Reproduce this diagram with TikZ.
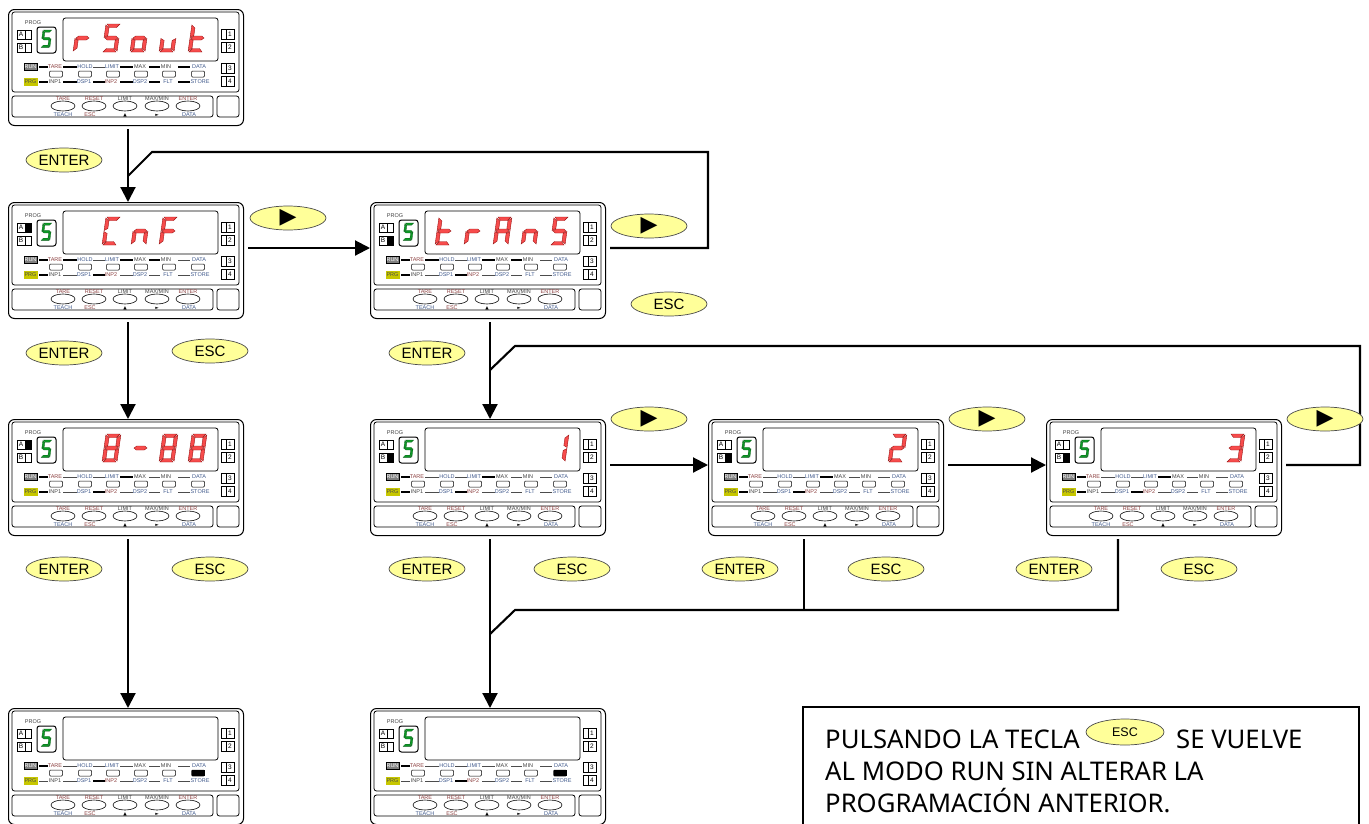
\documentclass[tikz,border=0pt]{standalone}
\usepackage{fontspec}
\setmainfont{Liberation Sans}
\newfontfamily\symfont{DejaVu Sans}
\newfontfamily\notefont{Noto Sans}
\usetikzlibrary{arrows.meta,shapes.geometric}
\definecolor{segredc}{rgb}{0.97,0.3,0.3}
\definecolor{segredd}{rgb}{0.6,0.08,0.08}
\definecolor{seggreenc}{rgb}{0.05,0.6,0.15}
\definecolor{keyyellow}{rgb}{1,1,0.6}
\definecolor{progyellow}{rgb}{0.78,0.78,0}
\definecolor{lblblue}{rgb}{0.25,0.35,0.55}
\definecolor{lblred}{rgb}{0.55,0.25,0.25}
\definecolor{lbldark}{rgb}{0.25,0.25,0.25}
\tikzset{
  panelbox/.style={draw,line width=1pt,rounded corners=6pt,minimum width=235pt,minimum height=116pt,inner sep=0pt,anchor=north west},
  inbox/.style={draw,line width=0.8pt,rounded corners=2.5pt},
  smallbox/.style={draw,line width=0.8pt,fill=white},
  lbl/.style={font=\fontsize{5.5}{6}\selectfont,inner sep=0pt},
  keybtn/.style={ellipse,draw=black!70,line width=0.7pt,fill=keyyellow,minimum width=76pt,minimum height=24pt,inner sep=0pt,font=\fontsize{15}{16}\selectfont},
  segred/.style={fill=segredc,draw=segredd,line width=0.4pt},
  seggreen/.style={fill=seggreenc,draw=seggreenc!60!black,line width=0.3pt},
  ledthin/.style={line width=0.5pt,draw=black!70},
  ledthick/.style={line width=1.4pt},
  flow/.style={line width=2.1pt,line join=miter},
  flowend/.style={flow,-{Triangle[width=15pt,length=15pt]}},
  notetext/.style={font=\notefont\fontsize{25.7}{30}\selectfont,inner sep=0pt,anchor=base west}
}
\newcommand{\mysega}{\path[segm] (1,0) -- (14,0) -- (11,3.5) -- (4,3.5) -- cycle;}
\newcommand{\mysegb}{\path[segm] (15,1) -- (11.5,4) -- (11.5,11.5) -- (15,13.5) -- cycle;}
\newcommand{\mysegc}{\path[segm] (15,27) -- (11.5,24) -- (11.5,16.5) -- (15,14.5) -- cycle;}
\newcommand{\mysegd}{\path[segm] (1,28) -- (14,28) -- (11,24.5) -- (4,24.5) -- cycle;}
\newcommand{\mysege}{\path[segm] (0,27) -- (3.5,24) -- (3.5,16.5) -- (0,14.5) -- cycle;}
\newcommand{\mysegf}{\path[segm] (0,1) -- (3.5,4) -- (3.5,11.5) -- (0,13.5) -- cycle;}
\newcommand{\mysegg}{\path[segm] (1,14) -- (3.5,12) -- (11.5,12) -- (14,14) -- (11.5,16) -- (3.5,16) -- cycle;}
\newcommand{\segdigit}[5]{
  \begin{scope}[shift={(#1,#2)},scale=#3,xslant=0.143,segm/.style={#4}]
    \foreach \s in {#5} {\csname myseg\s\endcsname}
  \end{scope}
}
\newcommand{\dig}[2]{\segdigit{#1+4}{15}{1}{segred}{#2}}
\newcommand{\markA}{\fill (17,21) rectangle (23,30);}
\newcommand{\markB}{\fill (17,34) rectangle (23,43);}
\newcommand{\markD}{\fill (183.5,62) rectangle (196.5,68);}
\newcommand{\meter}[7]{
  \node[panelbox] (#1) at (#2,#3) {};
  \begin{scope}[shift={(#2,#3)}]
    \coordinate (#1in) at (120,0);
    \coordinate (#1out) at (120,120);
    \coordinate (#1left) at (0,46);
    \coordinate (#1right) at (240,46);
    \draw[inbox] (4,3) rectangle (231,83);
    \draw[inbox] (4,87) rectangle (205,108);
    \draw[inbox] (209,87) rectangle (231,108);
    \draw[inbox] (55,9) rectangle (210,52);
    \draw[inbox,line width=1pt] (29,18) rectangle (48,44);
    \node[lbl,text=lbldark] (#1prog) at (25,14) {PROG};
    \foreach \t/\ya/\yb in {A/21/30,B/34/43} {
      \draw[smallbox] (9,\ya) rectangle (23,\yb);
      \draw[line width=0.5pt] (17,\ya) -- (17,\yb);
      \node[lbl,font=\fontsize{6.5}{7}\selectfont] (#1key\t) at (13,{(\ya+\yb)/2}) {\t};
    }
    \foreach \t/\ya/\yb in {1/20/30,2/33/43,3/54/64,4/67/77} {
      \draw[smallbox] (213,\ya) rectangle (226,\yb);
      \draw[line width=0.8pt] (218,\ya) -- (218,\yb);
      \node[lbl,font=\fontsize{6.5}{7}\selectfont] (#1rel\t) at (222,{(\ya+\yb)/2}) {\t};
    }
    \node[smallbox,fill=black!50,lbl,minimum width=13pt,minimum height=7pt,text=white] (#1run) at (22.5,58) {RUN};
    \node[smallbox,fill=progyellow,lbl,minimum width=13pt,minimum height=7pt,draw=progyellow,text=black!70] (#1prg) at (22.5,73) {PRG};
    \foreach \xa/\xb [count=\i] in {31/40,55/69,85/97,112/125,141/152,170/182} {
      \coordinate (ta\i) at (\xa,58);
      \coordinate (tb\i) at (\xb,58);
      \coordinate (ba\i) at (\xa,73);
      \coordinate (bb\i) at (\xb,73);
      \draw[ledthin] (ta\i) -- (tb\i);
      \draw[ledthin] (ba\i) -- (bb\i);
    }
    \foreach \i in {#6} {\draw[ledthick] (ta\i) -- (tb\i);}
    \foreach \i in {#7} {\draw[ledthick] (ba\i) -- (bb\i);}
    \foreach \t/\x/\c in {TARE/47/lblred,HOLD/77/lblblue,LIMIT/104/lblblue,MAX/132/lbldark,MIN/158/lbldark,DATA/191/lblblue} {
      \node[lbl,text=\c] (#1up\x) at (\x,58) {\t};
    }
    \foreach \t/\x/\c in {INP1/47/lbldark,DSP1/76/lblblue,INP2/103/lblred,DSP2/132/lblblue,FLT/160/lblblue,STORE/192/lblblue} {
      \node[lbl,text=\c] (#1dn\x) at (\x,73) {\t};
    }
    \foreach \x in {48,77,105,133,161,190} {
      \draw[smallbox,line width=0.5pt,rounded corners=1pt] (\x-6.5,62) rectangle (\x+6.5,68);
    }
    \foreach \t/\x/\c in {TARE/55/lblred,RESET/86/lblred,LIMIT/117/lbldark,{MAX/MIN}/149/lbldark,ENTER/180/lblred} {
      \node[lbl,text=\c] (#1top\x) at (\x,90) {\t};
    }
    \foreach \t/\x/\c in {TEACH/55/lblblue,ESC/82/lblred,DATA/181/lblblue} {
      \node[lbl,text=\c] (#1bot\x) at (\x,106) {\t};
    }
    \node[lbl,font=\symfont\fontsize{4.5}{5}\selectfont] (#1up) at (117,106) {▲};
    \node[lbl,font=\symfont\fontsize{4.5}{5}\selectfont] (#1rt) at (149,106) {►};
    \foreach \x in {55,86,117,149,180} {
      \draw[line width=0.6pt,fill=white] (\x,97) ellipse (12 and 5);
    }
    #4
    #5
    \segdigit{35}{21}{0.62}{seggreen}{a,f,g,c,d}
  \end{scope}
}
\begin{document}
\begin{tikzpicture}[x=1pt,y=-1pt,line cap=butt]
  \useasboundingbox (0,0) rectangle (1369,823);
  \clip (0,0) rectangle (1369,823);
  \meter{rsout}{8}{9}{}{\dig{65}{e,g}\dig{94}{a,f,g,c,d}\dig{122}{g,c,d,e}\dig{151}{c,d,e}\dig{180}{f,g,e,d}}{1,2,4,5,6}{1,2,3,4,5,6}
  \meter{cnf}{8}{202}{\markA}{\dig{94}{a,f,e,d}\dig{123}{e,g,c}\dig{151}{a,f,g,e}}{1,2,4,5}{1,3}
  \meter{trans}{370}{202}{\markB}{\dig{65}{f,g,e,d}\dig{94}{e,g}\dig{123}{a,b,c,e,f,g}\dig{151}{e,g,c}\dig{180}{a,f,g,c,d}}{1,2,4,5}{1,3}
  \meter{date}{8}{419}{\markA}{\dig{94}{a,b,c,d,e,f,g}\dig{123}{g}\dig{151}{a,b,c,d,e,f,g}\dig{180}{a,b,c,d,e,f,g}}{1,4}{1,3}
  \meter{one}{370}{419}{\markB}{\dig{180}{b,c}}{1,4}{1,3}
  \meter{two}{708}{419}{\markB}{\dig{180}{a,b,g,e,d}}{1,4}{1,3}
  \meter{three}{1046}{419}{\markB}{\dig{180}{a,b,g,c,d}}{1,4}{1,3}
  \meter{storea}{8}{708}{\markD}{}{1}{3}
  \meter{storeb}{370}{708}{\markD}{}{1}{3}
  \coordinate (loopa) at (708,152);
  \coordinate (loopb) at (152,152);
  \coordinate (loopc) at (128,176);
  \coordinate (loopd) at (1360,346);
  \coordinate (loope) at (515,346);
  \coordinate (loopf) at (490,370);
  \coordinate (backa) at (515,610);
  \coordinate (backb) at (490,634);
  \coordinate (backc) at (804,610);
  \coordinate (backd) at (1118,610);
  \draw[flowend] (rsoutout) -- (cnfin);
  \draw[flowend] (cnfout) -- (datein);
  \draw[flowend] (dateout) -- (storeain);
  \draw[flowend] (transout) -- (onein);
  \draw[flowend] (oneout) -- (storebin);
  \draw[flowend] (cnfright) -- (transleft);
  \draw[flowend] (oneright) -- (twoleft);
  \draw[flowend] (tworight) -- (threeleft);
  \draw[flow] (transright) -| (loopa) -- (loopb) -- (loopc);
  \draw[flow] (threeright) -| (loopd) -- (loope) -- (loopf);
  \draw[flow] (threeout -| backd) -- (backd) -- (backa) -- (backb);
  \draw[flow] (twoout -| backc) -- (backc);
  \node[keybtn] (enter1) at (64,160) {ENTER};
  \node[keybtn] (enter2) at (64,353) {ENTER};
  \node[keybtn] (esc2) at (210,351) {ESC};
  \node[keybtn] (enter3) at (427,353) {ENTER};
  \node[keybtn] (esc3) at (669,304) {ESC};
  \node[keybtn] (enter4) at (64,569) {ENTER};
  \node[keybtn] (esc4) at (210,569) {ESC};
  \node[keybtn] (enter5) at (427,569) {ENTER};
  \node[keybtn] (esc5) at (572,569) {ESC};
  \node[keybtn] (enter6) at (740,569) {ENTER};
  \node[keybtn] (esc6) at (886,569) {ESC};
  \node[keybtn] (enter7) at (1054,569) {ENTER};
  \node[keybtn] (esc7) at (1199,569) {ESC};
  \foreach \x/\y [count=\i] in {288/218,649/226,649/419,987/419,1325/419} {
    \node[keybtn,font=\symfont\fontsize{22}{22}\selectfont] (right\i) at (\x,\y) {▶};
  }
  \draw[line width=1.3pt] (803,707) rectangle (1359,840);
  \node[notetext] (noteone) at (825,748) {PULSANDO LA TECLA};
  \node[keybtn,minimum width=78pt,minimum height=26pt,font=\fontsize{12.5}{13}\selectfont] (noteesc) at (1125,732) {ESC};
  \node[notetext] (notetwo) at (1176,748) {SE VUELVE};
  \node[notetext] (notethree) at (825,780) {AL MODO RUN SIN ALTERAR LA};
  \node[notetext] (notefour) at (825,812) {PROGRAMACIÓN ANTERIOR.};
\end{tikzpicture}
\end{document}
